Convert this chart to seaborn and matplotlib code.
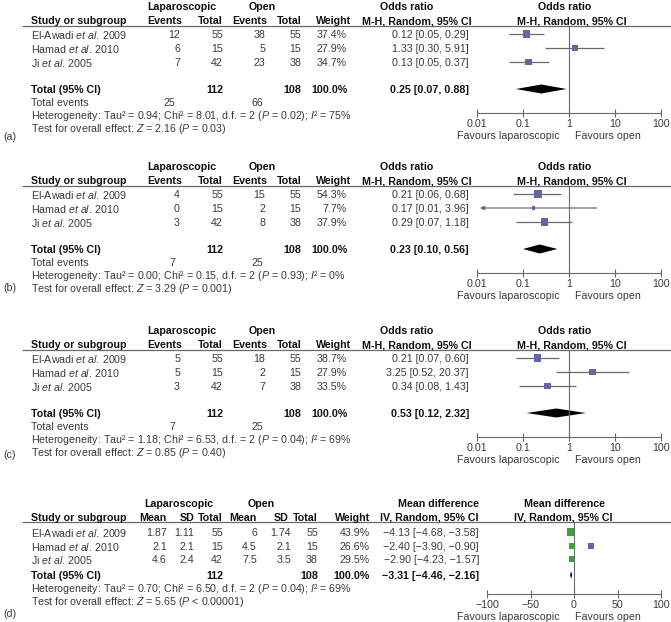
import numpy as np
import pandas as pd
import seaborn as sns
import matplotlib.pyplot as plt

sns.set_theme(style="white")
plt.rcParams['font.family'] = ['Liberation Sans', 'DejaVu Sans']
plt.rcParams['mathtext.fontset'] = 'custom'
plt.rcParams['mathtext.rm'] = 'Liberation Sans'
plt.rcParams['mathtext.it'] = 'Liberation Sans:italic'
plt.rcParams['mathtext.bf'] = 'Liberation Sans:bold'

# ---------------- data ----------------
studies = [r"El-Awadi $\mathit{et\ al.}\!$ 2009",
           r"Hamad $\mathit{et\ al.}\!$ 2010",
           r"Ji $\mathit{et\ al.}\!$ 2005"]
pooled_weight = 100.0

# (a)
a_lap_events = [12, 6, 7]
a_lap_total = [55, 15, 42]
a_open_events = [38, 5, 23]
a_open_total = [55, 15, 38]
a_weight = [37.4, 27.9, 34.7]
a_or = [0.12, 1.33, 0.13]
a_lo = [0.05, 0.30, 0.05]
a_hi = [0.29, 5.91, 0.37]
a_pooled = [0.25, 0.07, 0.88]
a_total_events = [25, 66]
a_het = r"Heterogeneity: Tau² = 0.94; Chi² = 8.01, d.f. = 2 ($P$ = 0.02); $I$² = 75%"
a_test = r"Test for overall effect: $Z$ = 2.16 ($P$ = 0.03)"

# (b)
b_lap_events = [4, 0, 3]
b_lap_total = [55, 15, 42]
b_open_events = [15, 2, 8]
b_open_total = [55, 15, 38]
b_weight = [54.3, 7.7, 37.9]
b_or = [0.21, 0.17, 0.29]
b_lo = [0.06, 0.01, 0.07]
b_hi = [0.68, 3.96, 1.18]
b_pooled = [0.23, 0.10, 0.56]
b_total_events = [7, 25]
b_het = r"Heterogeneity: Tau² = 0.00; Chi² = 0.15, d.f. = 2 ($P$ = 0.93); $I$² = 0%"
b_test = r"Test for overall effect: $Z$ = 3.29 ($P$ = 0.001)"

# (c)
c_lap_events = [5, 5, 3]
c_lap_total = [55, 15, 42]
c_open_events = [18, 2, 7]
c_open_total = [55, 15, 38]
c_weight = [38.7, 27.9, 33.5]
c_or = [0.21, 3.25, 0.34]
c_lo = [0.07, 0.52, 0.08]
c_hi = [0.60, 20.37, 1.43]
c_pooled = [0.53, 0.12, 2.32]
c_total_events = [7, 25]
c_het = r"Heterogeneity: Tau² = 1.18; Chi² = 6.53, d.f. = 2 ($P$ = 0.04); $I$² = 69%"
c_test = r"Test for overall effect: $Z$ = 0.85 ($P$ = 0.40)"

# (d)
d_lap_mean = [1.87, 2.1, 4.6]
d_lap_sd = [1.11, 2.1, 2.4]
d_lap_total = [55, 15, 42]
d_open_mean = [6, 4.5, 7.5]
d_open_sd = [1.74, 2.1, 3.5]
d_open_total = [55, 15, 38]
d_weight = [43.9, 26.6, 29.5]
d_md = [-4.13, -2.40, -2.90]
d_lo = [-4.68, -3.90, -4.23]
d_hi = [-3.58, -0.90, -1.57]
d_pooled = [-3.31, -4.46, -2.16]
d_stray_md = [20.0]  # stray purple square visible in the original
d_het = r"Heterogeneity: Tau² = 0.70; Chi² = 6.50, d.f. = 2 ($P$ = 0.04); $I$² = 69%"
d_test = r"Test for overall effect: $Z$ = 5.65 ($P$ < 0.00001)"

or_ticks = [0.01, 0.1, 1, 10, 100]
or_ticklabels = ["0.01", "0.1", "1", "10", "100"]
md_ticks = [-100, -50, 0, 50, 100]
md_ticklabels = ["\u2212100", "\u221250", "0", "50", "100"]

# ---------------- layout ----------------
W, H = 671, 622
FS = 7.7
TXT = '#3a3a3a'
HDR = '#111111'
LINE = '#6a6a6a'
PURPLE = '#6464a8'
GREEN = '#3aa336'

fig = plt.figure(figsize=(W / 100, H / 100), dpi=100)
ax0 = fig.add_axes([0, 0, 1, 1])
ax0.set_xlim(0, W)
ax0.set_ylim(H, 0)
ax0.axis('off')


def txt(x, y, s, ha='left', bold=False):
    ax0.text(x, y, s, ha=ha, va='center_baseline', fontsize=FS,
             fontweight='bold' if bold else 'normal', color=HDR if bold else TXT)


def fmt(v):
    return f"{v:.2f}".replace('-', '\u2212')


def forest_axes(top, x0, x1, axis_off):
    fa = fig.add_axes([x0 / W, 1 - (top + axis_off) / H, (x1 - x0) / W, (axis_off - 26) / H])
    fa.patch.set_alpha(0)
    fa.set_ylim(top + axis_off, top + 26)
    fa.set_yticks([])
    sns.despine(ax=fa, left=True)
    fa.spines['bottom'].set_color(LINE)
    fa.spines['bottom'].set_linewidth(0.8)
    fa.tick_params(axis='x', direction='inout', length=6, width=0.8, color=LINE,
                   labelsize=FS, labelcolor=TXT, pad=1.5, bottom=True)
    return fa


row_off = [34, 48, 62]

or_panels = [
    dict(top=0, tag="(a)", tag_y=136, lap_ev=a_lap_events, lap_n=a_lap_total, op_ev=a_open_events,
         op_n=a_open_total, wt=a_weight, est=a_or, lo=a_lo, hi=a_hi, pooled=a_pooled,
         tot_ev=a_total_events, het=a_het, test=a_test),
    dict(top=160, tag="(b)", tag_y=287, lap_ev=b_lap_events, lap_n=b_lap_total, op_ev=b_open_events,
         op_n=b_open_total, wt=b_weight, est=b_or, lo=b_lo, hi=b_hi, pooled=b_pooled,
         tot_ev=b_total_events, het=b_het, test=b_test),
    dict(top=324, tag="(c)", tag_y=454, lap_ev=c_lap_events, lap_n=c_lap_total, op_ev=c_open_events,
         op_n=c_open_total, wt=c_weight, est=c_or, lo=c_lo, hi=c_hi, pooled=c_pooled,
         tot_ev=c_total_events, het=c_het, test=c_test),
]

for p in or_panels:
    t = p['top']
    df = pd.DataFrame({'study': studies, 'lap_ev': p['lap_ev'], 'lap_n': p['lap_n'],
                       'op_ev': p['op_ev'], 'op_n': p['op_n'], 'wt': p['wt'],
                       'est': p['est'], 'lo': p['lo'], 'hi': p['hi']})
    df['y'] = [t + r for r in row_off]

    # table headers
    txt(182, t + 6, "Laparoscopic", ha='center', bold=True)
    txt(262, t + 6, "Open", ha='center', bold=True)
    txt(407, t + 6, "Odds ratio", ha='center', bold=True)
    txt(565, t + 6, "Odds ratio", ha='center', bold=True)
    txt(31, t + 20, "Study or subgroup", bold=True)
    for x, s in zip([182, 223, 267, 302, 351], ["Events", "Total", "Events", "Total", "Weight"]):
        txt(x, t + 20, s, ha='right', bold=True)
    txt(472, t + 20, "M-H, Random, 95% CI", ha='right', bold=True)
    txt(572, t + 20, "M-H, Random, 95% CI", ha='center', bold=True)
    ax0.hlines(t + 26, 22, W, color=LINE, lw=0.9)

    # study rows
    for _, r in df.iterrows():
        txt(31, r.y, r.study)
        txt(180, r.y, f"{r.lap_ev:.0f}", ha='right')
        txt(223, r.y, f"{r.lap_n:.0f}", ha='right')
        txt(265, r.y, f"{r.op_ev:.0f}", ha='right')
        txt(301, r.y, f"{r.op_n:.0f}", ha='right')
        txt(347, r.y, f"{r.wt:.1f}%", ha='right')
        txt(469, r.y, f"{r.est:.2f} [{r.lo:.2f}, {r.hi:.2f}]", ha='right')

    # totals
    est, lo, hi = p['pooled']
    txt(31, t + 89, "Total (95% CI)", bold=True)
    txt(223, t + 89, f"{sum(p['lap_n'])}", ha='right', bold=True)
    txt(301, t + 89, f"{sum(p['op_n'])}", ha='right', bold=True)
    txt(348, t + 89, f"{pooled_weight:.1f}%", ha='right', bold=True)
    txt(469, t + 89, f"{est:.2f} [{lo:.2f}, {hi:.2f}]", ha='right', bold=True)
    txt(31, t + 102, "Total events")
    txt(175, t + 102, f"{p['tot_ev'][0]}", ha='right')
    txt(263, t + 102, f"{p['tot_ev'][1]}", ha='right')
    txt(31, t + 114, p['het'])
    txt(31, t + 127, p['test'])
    txt(3, p['tag_y'], p['tag'])
    txt(560, t + 135, "Favours laparoscopic", ha='right')
    txt(575, t + 135, "Favours open")

    # forest plot
    fa = forest_axes(t, 477, 661, 113)
    fa.set_xscale('log')
    fa.set_xlim(or_ticks[0], or_ticks[-1])
    fa.set_xticks(or_ticks)
    fa.set_xticklabels(or_ticklabels)
    fa.minorticks_off()
    fa.axvline(1, color=LINE, lw=0.8)
    inside = df[df.lo > or_ticks[0]]
    fa.hlines(inside.y, inside.lo, inside.hi, color=LINE, lw=0.9)
    for _, r in df[df.lo <= or_ticks[0]].iterrows():
        fa.annotate('', xy=(or_ticks[0] * 1.16, r.y), xytext=(r.hi, r.y),
                    arrowprops=dict(arrowstyle='-|>', color=LINE, lw=0.9, mutation_scale=6,
                                    shrinkA=0, shrinkB=0))
    sns.scatterplot(data=df, x='est', y='y', size='wt', sizes=(0, 70), size_norm=(0, 100),
                    marker='s', color=PURPLE, linewidth=0, legend=False, ax=fa, zorder=3)
    fa.fill([lo, est, hi, est], [t + 89, t + 84.5, t + 89, t + 93.5], color='black', lw=0)
    fa.set_xlabel('')
    fa.set_ylabel('')

# ---------------- panel (d) ----------------
t = 497
dd = pd.DataFrame({'study': studies, 'lm': d_lap_mean, 'ls': d_lap_sd, 'ln': d_lap_total,
                   'om': d_open_mean, 'os': d_open_sd, 'on': d_open_total, 'wt': d_weight,
                   'md': d_md, 'lo': d_lo, 'hi': d_hi})
dd['y'] = [t + r for r in [35, 49, 62]]

txt(179, t + 6, "Laparoscopic", ha='center', bold=True)
txt(261, t + 6, "Open", ha='center', bold=True)
txt(438, t + 6, "Mean difference", ha='center', bold=True)
txt(565, t + 6, "Mean difference", ha='center', bold=True)
txt(31, t + 20, "Study or subgroup", bold=True)
for x, s in zip([167, 195, 223, 257, 289, 318, 370],
                ["Mean", "SD", "Total", "Mean", "SD", "Total", "Weight"]):
    txt(x, t + 20, s, ha='right', bold=True)
txt(479, t + 20, "IV, Random, 95% CI", ha='right', bold=True)
txt(563, t + 20, "IV, Random, 95% CI", ha='center', bold=True)
ax0.hlines(t + 25, 22, W, color=LINE, lw=0.9)

for _, r in dd.iterrows():
    txt(31, r.y, r.study)
    txt(167, r.y, f"{r.lm:g}", ha='right')
    txt(194, r.y, f"{r.ls:g}", ha='right')
    txt(223, r.y, f"{r.ln:.0f}", ha='right')
    txt(257, r.y, f"{r.om:g}", ha='right')
    txt(291, r.y, f"{r.os:g}", ha='right')
    txt(318, r.y, f"{r.on:.0f}", ha='right')
    txt(370, r.y, f"{r.wt:.1f}%", ha='right')
    txt(479, r.y, f"{fmt(r.md)} [{fmt(r.lo)}, {fmt(r.hi)}]", ha='right')

est, lo, hi = d_pooled
txt(31, t + 78, "Total (95% CI)", bold=True)
txt(223, t + 78, f"{sum(d_lap_total)}", ha='right', bold=True)
txt(318, t + 78, f"{sum(d_open_total)}", ha='right', bold=True)
txt(370, t + 78, f"{pooled_weight:.1f}%", ha='right', bold=True)
txt(479, t + 78, f"{fmt(est)} [{fmt(lo)}, {fmt(hi)}]", ha='right', bold=True)
txt(31, t + 90, d_het)
txt(31, t + 103, d_test)
txt(3, 613, "(d)")
txt(560, t + 119, "Favours laparoscopic", ha='right')
txt(575, t + 119, "Favours open")

fd = forest_axes(t, 487, 661, 97)
fd.set_xlim(md_ticks[0], md_ticks[-1])
fd.set_xticks(md_ticks)
fd.set_xticklabels(md_ticklabels)
fd.axvline(0, color=LINE, lw=0.8)
fd.hlines(dd.y, dd.lo, dd.hi, color=LINE, lw=0.9)
sns.scatterplot(data=dd, x='md', y='y', size='wt', sizes=(0, 58), size_norm=(0, 100),
                marker='s', color=GREEN, linewidth=0, legend=False, ax=fd, zorder=3)
sns.scatterplot(x=d_stray_md, y=[dd.y[1]] * len(d_stray_md), s=13, marker='s',
                color=PURPLE, linewidth=0, legend=False, ax=fd, zorder=3)
fd.fill([lo, est, hi, est], [t + 78, t + 74, t + 78, t + 82], color='black', lw=0)
fd.set_xlabel('')
fd.set_ylabel('')

fig.savefig("out.png", dpi=100)
